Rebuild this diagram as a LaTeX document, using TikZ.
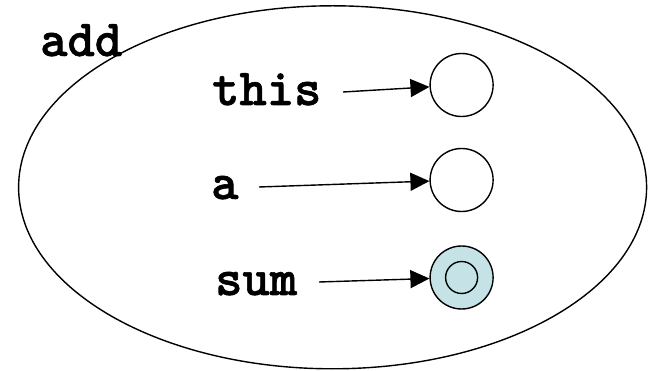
\documentclass[tikz,border=0pt]{standalone}
\usepackage{fontspec}
\newfontfamily\lblfont[FakeBold=1.2]{lmmonolt10-bold.otf}
\usetikzlibrary{shapes.geometric,arrows.meta}
\definecolor{cellblue}{RGB}{197,227,231}
\begin{document}
\begin{tikzpicture}[x=1pt,y=-1pt,
  lbl/.style={font=\fontsize{52}{52}\selectfont\lblfont, inner sep=0pt, anchor=base west},
  cell/.style={circle, draw=black, line width=1.4pt, minimum size=63pt, inner sep=0pt},
  ptr/.style={line width=1.4pt, -{Triangle[length=19pt,width=18pt]}}]
\useasboundingbox (0,0) rectangle (648,371);
\node[ellipse, draw=black, line width=1.4pt, minimum width=628pt, minimum height=363pt, inner sep=0pt] (frame) at (332.6,187.3) {};
\node[lbl] (add) at (40,56) {add};
\node[lbl] (this) at (212,105) {this};
\node[lbl] (a) at (211,199) {a};
\node[lbl] (sum) at (215,295) {sum};
\node[cell] (c1) at (461.6,85) {};
\node[cell] (c2) at (461.6,180) {};
\node[cell, fill=cellblue] (c3) at (461.6,277.5) {};
\node[circle, draw=black, line width=1.4pt, minimum size=32pt, inner sep=0pt] (c3in) at (c3) {};
\coordinate (s1) at (343,92);
\coordinate (s2) at (259,187);
\coordinate (s3) at (319,282);
\draw[ptr] (s1) -- (c1);
\draw[ptr] (s2) -- (c2);
\draw[ptr] (s3) -- (c3);
\end{tikzpicture}
\end{document}
